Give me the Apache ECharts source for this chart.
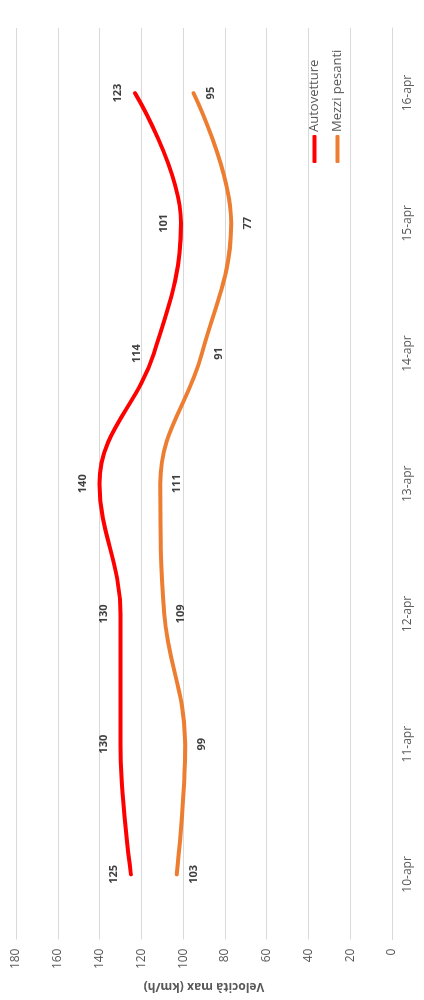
<!DOCTYPE html>
<html>
<head>
<meta charset="utf-8">
<script src="https://cdn.jsdelivr.net/npm/echarts@6/dist/echarts.min.js"></script>
<style>
  html, body { margin: 0; padding: 0; background: #fff; width: 424px; height: 1000px; overflow: hidden; }
  /* landscape chart turned a quarter counter-clockwise onto the page */
  #chart {
    position: absolute; left: 0; top: 0;
    width: 1000px; height: 424px;
    transform-origin: 0 0;
    transform: translate(0, 1000px) rotate(-90deg);
  }
</style>
</head>
<body>
<div id="chart"></div>
<script>
const days = ['10-apr', '11-apr', '12-apr', '13-apr', '14-apr', '15-apr', '16-apr'];
const autovetture = [125, 130, 130, 140, 114, 101, 123];
const mezziPesanti = [103, 99, 109, 111, 91, 77, 95];
const seriesNames = ['Autovetture', 'Mezzi pesanti'];
const axisTitle = 'Velocità max (km/h)';

const FONT = '"Open Sans", sans-serif';
const chart = echarts.init(document.getElementById('chart'), null, { renderer: 'canvas' });

function lineSeries(name, data, color, labelPos) {
  return {
    name: name,
    type: 'line',
    data: data,
    smooth: 0.4,
    symbol: 'circle',
    symbolSize: 1,
    showSymbol: true,
    lineStyle: { color: color, width: 4, cap: 'round' },
    itemStyle: { color: color, borderWidth: 0 },
    label: {
      show: true, position: labelPos, distance: 11,
      color: '#404040', fontSize: 11, fontWeight: 'bold', fontFamily: FONT
    }
  };
}

chart.setOption({
  animation: false,
  textStyle: { fontFamily: FONT },
  grid: { left: 55, right: 28, top: 16, bottom: 32, containLabel: false },
  legend: {
    orient: 'vertical',
    left: 832,
    top: 303,
    itemWidth: 28,
    itemHeight: 4,
    itemGap: 10,
    icon: 'roundRect',
    textStyle: { color: '#595959', fontSize: 13, fontFamily: FONT, padding: [0, 0, 0, -2] },
    data: seriesNames
  },
  xAxis: {
    type: 'category',
    data: days,
    boundaryGap: true,
    axisLine: { show: true, lineStyle: { color: '#d9d9d9' } },
    axisTick: { show: false },
    axisLabel: { color: '#595959', fontSize: 12, margin: 10, fontFamily: FONT }
  },
  yAxis: {
    type: 'value',
    min: 0, max: 180, interval: 20,
    name: axisTitle,
    nameLocation: 'middle',
    nameGap: 40,
    nameTextStyle: { color: '#595959', fontSize: 12, fontWeight: 'bold', fontFamily: FONT },
    axisLine: { show: false },
    axisTick: { show: false },
    axisLabel: { color: '#595959', fontSize: 12, margin: 9, fontFamily: FONT },
    splitLine: { lineStyle: { color: '#d9d9d9', width: 1 } }
  },
  series: [
    lineSeries(seriesNames[0], autovetture, '#ff0000', 'top'),
    lineSeries(seriesNames[1], mezziPesanti, '#ed7d31', 'bottom')
  ]
});
</script>
</body>
</html>
